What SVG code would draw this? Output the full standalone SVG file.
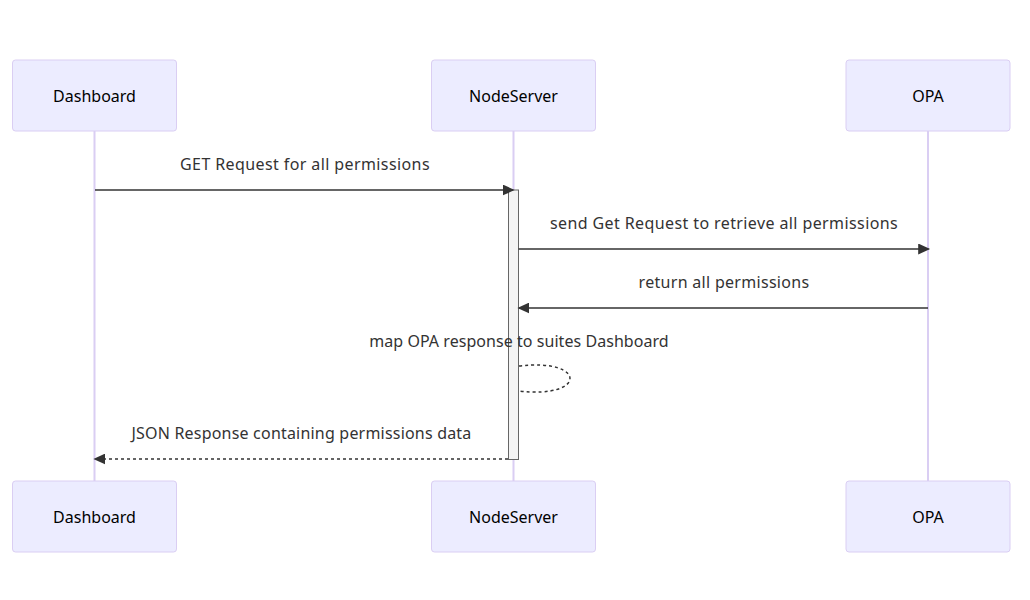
<svg xmlns="http://www.w3.org/2000/svg" width="1030" height="600" viewBox="0 0 1030 600">
<style>
.actor{fill:#ECECFF;stroke:#DACEF3;stroke-width:1}
.atext{font-family:"Noto Sans","Liberation Sans",Arial,sans-serif;font-size:16px;fill:#000;text-anchor:middle;dominant-baseline:central}
.life{stroke:#DACEF3;stroke-width:2}
.msg{stroke:#333;stroke-width:1.5;fill:none}
.dash{stroke-dasharray:3,3}
.mtext{font-family:"Noto Sans","Liberation Sans",Arial,sans-serif;font-size:16px;letter-spacing:0.4px;fill:#333;text-anchor:middle;dominant-baseline:central}
.act{fill:#F4F4F4;stroke:#666;stroke-width:1}
</style>
<defs>
<marker id="arrow" viewBox="-1 0 12 10" refX="8.5" refY="5" markerWidth="13" markerHeight="11" markerUnits="userSpaceOnUse" orient="auto" preserveAspectRatio="none">
<path d="M -1 0 L 10 5 L -1 10 z" fill="#333"/>
</marker>
</defs>
<g id="lifelines">
<line class="life" x1="94.5" y1="131" x2="94.5" y2="481"/>
<line class="life" x1="513.5" y1="131" x2="513.5" y2="481"/>
<line class="life" x1="928" y1="131" x2="928" y2="481"/>
</g>
<g id="actor-dashboard-top"><rect class="actor" x="12.5" y="60" width="164" height="71" rx="3"/><text class="atext" x="94.5" y="96">Dashboard</text></g>
<g id="actor-nodeserver-top"><rect class="actor" x="431.5" y="60" width="164" height="71" rx="3"/><text class="atext" x="513.5" y="96">NodeServer</text></g>
<g id="actor-opa-top"><rect class="actor" x="846" y="60" width="164" height="71" rx="3"/><text class="atext" x="928" y="96">OPA</text></g>
<g id="actor-dashboard-bottom"><rect class="actor" x="12.5" y="481" width="164" height="71" rx="3"/><text class="atext" x="94.5" y="517">Dashboard</text></g>
<g id="actor-nodeserver-bottom"><rect class="actor" x="431.5" y="481" width="164" height="71" rx="3"/><text class="atext" x="513.5" y="517">NodeServer</text></g>
<g id="actor-opa-bottom"><rect class="actor" x="846" y="481" width="164" height="71" rx="3"/><text class="atext" x="928" y="517">OPA</text></g>
<g id="activation"><rect class="act" x="508.5" y="190" width="10" height="269.5"/></g>
<g id="connectors">
<line class="msg" x1="95" y1="190" x2="513" y2="190" marker-end="url(#arrow)"/>
<text class="mtext" x="305" y="164">GET Request for all permissions</text>
<line class="msg" x1="518.5" y1="249" x2="928.5" y2="249" marker-end="url(#arrow)"/>
<text class="mtext" x="724" y="223">send Get Request to retrieve all permissions</text>
<line class="msg" x1="928" y1="308" x2="519" y2="308" marker-end="url(#arrow)"/>
<text class="mtext" x="724" y="282" style="letter-spacing:0.3px">return all permissions</text>
<text class="mtext" x="519" y="341" style="letter-spacing:0.05px">map OPA response to suites Dashboard</text>
<path class="msg dash" d="M 519 366 C 587 358 587 399 519 391"/>
<line class="msg dash" x1="508" y1="459" x2="95" y2="459" marker-end="url(#arrow)"/>
<text class="mtext" x="301.5" y="433" style="letter-spacing:0.2px">JSON Response containing permissions data</text>
</g>
</svg>
